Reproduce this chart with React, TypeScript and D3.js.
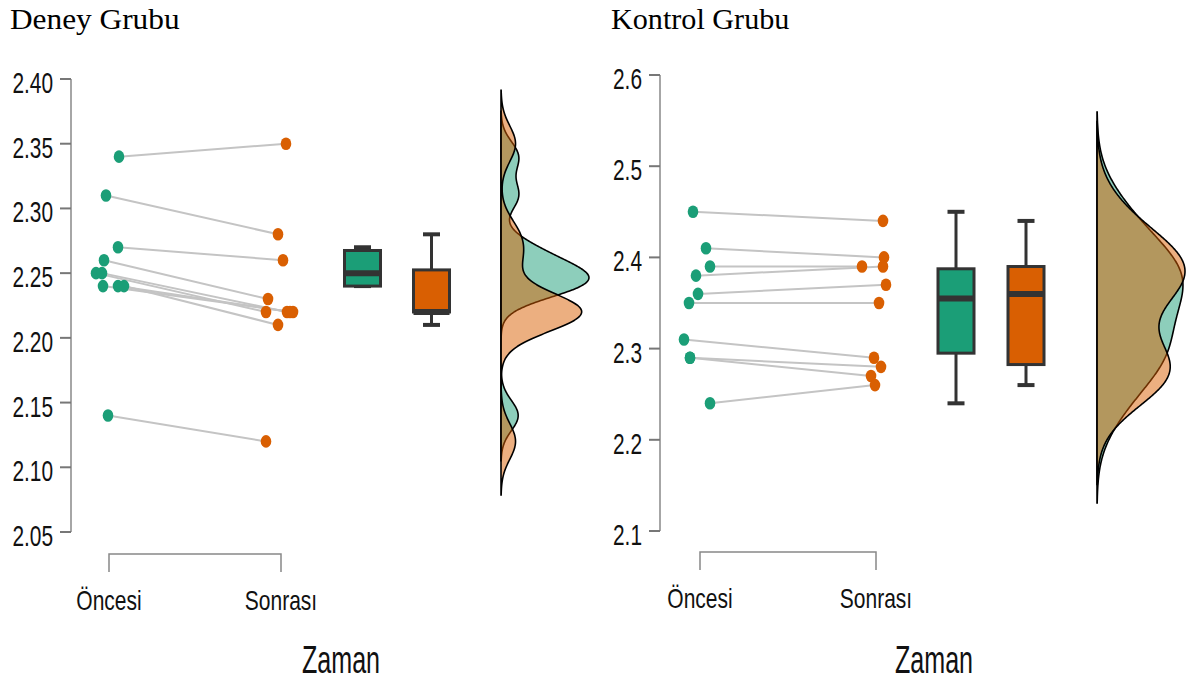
import React from "react";
import * as d3 from "d3";

// ---------- DATA ----------
const groups = ["Öncesi", "Sonrası"];

const deneyPre = [2.34, 2.31, 2.27, 2.26, 2.25, 2.25, 2.24, 2.24, 2.24, 2.14];
const deneyPost = [2.35, 2.28, 2.26, 2.23, 2.22, 2.22, 2.22, 2.22, 2.21, 2.12];
const deneyPreJitter = [10, -3, 9, -5, -13, -7, -6, 9, 15, -1];
const deneyPostJitter = [5, -3, 2, -13, -15, 6, 12, 9, -3, -15];
const deneyTicks = [2.05, 2.1, 2.15, 2.2, 2.25, 2.3, 2.35, 2.4];

const kontrolPre = [2.45, 2.41, 2.39, 2.38, 2.36, 2.35, 2.31, 2.29, 2.29, 2.24];
const kontrolPost = [2.44, 2.4, 2.39, 2.39, 2.37, 2.35, 2.29, 2.28, 2.27, 2.26];
const kontrolPreJitter = [-7, 6, 10, -4, -2, -11, -16, -10, -10, 10];
const kontrolPostJitter = [7, 8, -14, 7, 10, 3, -2, 5, -5, -1];
const kontrolTicks = [2.1, 2.2, 2.3, 2.4, 2.5, 2.6];

const GREEN = "#1b9e77";
const ORANGE = "#d95f02";
const SANS = "'Liberation Sans', Arial, sans-serif";
const SERIF = "'Liberation Serif', 'Times New Roman', serif";

function nrd0(x: number[]) {
  const s = [...x].sort(d3.ascending);
  const sd = d3.deviation(s) as number;
  const iqr = (d3.quantile(s, 0.75) as number) - (d3.quantile(s, 0.25) as number);
  let lo = Math.min(sd, iqr / 1.34);
  if (!(lo > 0)) lo = sd || Math.abs(s[0]) || 1;
  return 0.9 * lo * Math.pow(s.length, -0.2);
}

function kde(x: number[]) {
  const bw = nrd0(x);
  const lo = (d3.min(x) as number) - 3 * bw;
  const hi = (d3.max(x) as number) + 3 * bw;
  const n = 400;
  return d3.range(n).map((i) => {
    const v = lo + ((hi - lo) * i) / (n - 1);
    const d =
      d3.mean(x, (xi) => Math.exp(-0.5 * ((v - xi) / bw) ** 2)) as number;
    return { v, d: d / (bw * Math.sqrt(2 * Math.PI)) };
  });
}

function boxStats(x: number[]) {
  const s = [...x].sort(d3.ascending);
  const q1 = d3.quantile(s, 0.25) as number;
  const med = d3.quantile(s, 0.5) as number;
  const q3 = d3.quantile(s, 0.75) as number;
  const iqr = q3 - q1;
  const lowW = d3.min(s.filter((v) => v >= q1 - 1.5 * iqr - 1e-9)) as number;
  const highW = d3.max(s.filter((v) => v <= q3 + 1.5 * iqr + 1e-9)) as number;
  return { q1, med, q3, lowW, highW };
}

function Txt(props: {
  x: number; y: number; text: string; size: number; sx: number;
  anchor?: string; family?: string; fill?: string;
}) {
  const { x, y, text, size, sx, anchor = "start", family = SANS, fill = "#111" } = props;
  return (
    <text
      transform={`translate(${x},${y}) scale(${sx},1)`}
      fontSize={size}
      fontFamily={family}
      textAnchor={anchor}
      fill={fill}
    >
      {text}
    </text>
  );
}

type PanelProps = {
  title: string;
  titleX: number;
  titleSx: number;
  pre: number[];
  post: number[];
  preJ: number[];
  postJ: number[];
  ticks: number[];
  fmt: string;
  yDomain: [number, number];
  yRange: [number, number];
  axisX: number;
  xRange: [number, number];
  bracketY: number;
  boxCenters: [number, number];
  densX: number;
  zamanX: number;
};

function Panel(p: PanelProps) {
  const y = d3.scaleLinear().domain(p.yDomain).range(p.yRange);
  const x = d3.scalePoint<string>().domain(groups).range(p.xRange);
  const f = d3.format(p.fmt);
  const series = [p.pre, p.post];
  const jit = [p.preJ, p.postJ];
  const colors = [GREEN, ORANGE];

  const dens = series.map(kde);
  const maxD = d3.max(dens.flat(), (d) => d.d) as number;
  const w = d3.scaleLinear().domain([0, maxD]).range([p.densX, p.densX + 88]);
  const area = d3
    .area<{ v: number; d: number }>()
    .y((d) => y(d.v))
    .x0(p.densX)
    .x1((d) => w(d.d))
    .curve(d3.curveBasis);

  const boxW = 36;
  const capW = 17;

  return (
    <g>
      <Txt x={p.titleX} y={29} text={p.title} size={29} sx={p.titleSx} family={SERIF} fill="#000" />

      {/* y axis */}
      <line x1={p.axisX} x2={p.axisX} y1={y(p.ticks[0])} y2={y(p.ticks[p.ticks.length - 1])} stroke="#888" strokeWidth={1.5} />
      {p.ticks.map((t) => (
        <g key={t}>
          <line x1={p.axisX - 11} x2={p.axisX} y1={y(t)} y2={y(t)} stroke="#777" strokeWidth={2} />
          <Txt x={p.axisX - 18} y={y(t) + 14} text={f(t)} size={29} sx={0.72} anchor="end" />
        </g>
      ))}

      {/* x axis bracket */}
      <path
        d={`M${x(groups[0])},${p.bracketY + 18}V${p.bracketY}H${x(groups[1])}V${p.bracketY + 18}`}
        fill="none"
        stroke="#888"
        strokeWidth={1.5}
      />
      {groups.map((g) => (
        <Txt key={g} x={x(g) as number} y={p.bracketY + 56} text={g} size={28} sx={0.75} anchor="middle" />
      ))}
      <Txt x={p.zamanX} y={673} text="Zaman" size={38} sx={0.66} anchor="middle" />

      {/* connecting lines */}
      {p.pre.map((v, i) => (
        <line
          key={"l" + i}
          x1={(x(groups[0]) as number) + p.preJ[i]}
          y1={y(v)}
          x2={(x(groups[1]) as number) + p.postJ[i]}
          y2={y(p.post[i])}
          stroke="#c4c4c4"
          strokeWidth={2}
        />
      ))}
      {/* points */}
      {series.map((s, si) =>
        s.map((v, i) => (
          <ellipse
            key={si + "-" + i}
            cx={(x(groups[si]) as number) + jit[si][i]}
            cy={y(v)}
            rx={5.3}
            ry={6.3}
            fill={colors[si]}
          />
        ))
      )}

      {/* boxplots */}
      {series.map((s, si) => {
        const b = boxStats(s);
        const cx = p.boxCenters[si];
        return (
          <g key={"b" + si}>
            <line x1={cx} x2={cx} y1={y(b.highW)} y2={y(b.q3)} stroke="#333" strokeWidth={3} />
            <line x1={cx} x2={cx} y1={y(b.q1)} y2={y(b.lowW)} stroke="#333" strokeWidth={3} />
            <line x1={cx - capW / 2} x2={cx + capW / 2} y1={y(b.highW)} y2={y(b.highW)} stroke="#333" strokeWidth={4} />
            <line x1={cx - capW / 2} x2={cx + capW / 2} y1={y(b.lowW)} y2={y(b.lowW)} stroke="#333" strokeWidth={4} />
            <rect
              x={cx - boxW / 2}
              y={y(b.q3)}
              width={boxW}
              height={Math.max(0.5, y(b.q1) - y(b.q3))}
              fill={colors[si]}
              stroke="#333"
              strokeWidth={3}
            />
            <line x1={cx - boxW / 2} x2={cx + boxW / 2} y1={y(b.med)} y2={y(b.med)} stroke="#333" strokeWidth={6} />
          </g>
        );
      })}

      {/* densities */}
      {dens.map((d, si) => (
        <path
          key={"d" + si}
          d={area(d) as string}
          fill={colors[si]}
          fillOpacity={0.5}
          stroke="#000"
          strokeWidth={1.6}
        />
      ))}
    </g>
  );
}

export default function App() {
  return (
    <svg
      width={1195}
      height={688}
      style={{ position: "absolute", left: 0, top: 0, background: "#fff" }}
    >
      <rect width={1195} height={688} fill="#fff" />
      <Panel
        title="Deney Grubu"
        titleX={10}
        titleSx={1.08}
        pre={deneyPre}
        post={deneyPost}
        preJ={deneyPreJitter}
        postJ={deneyPostJitter}
        ticks={deneyTicks}
        fmt=".2f"
        yDomain={[2.05, 2.4]}
        yRange={[532, 79]}
        axisX={71}
        xRange={[109, 281]}
        bracketY={554}
        boxCenters={[362.5, 431.5]}
        densX={501}
        zamanX={341}
      />
      <Panel
        title="Kontrol Grubu"
        titleX={611}
        titleSx={1.04}
        pre={kontrolPre}
        post={kontrolPost}
        preJ={kontrolPreJitter}
        postJ={kontrolPostJitter}
        ticks={kontrolTicks}
        fmt=".1f"
        yDomain={[2.1, 2.6]}
        yRange={[531, 75]}
        axisX={660}
        xRange={[700, 876]}
        bracketY={552}
        boxCenters={[956, 1026]}
        densX={1097}
        zamanX={934}
      />
    </svg>
  );
}
